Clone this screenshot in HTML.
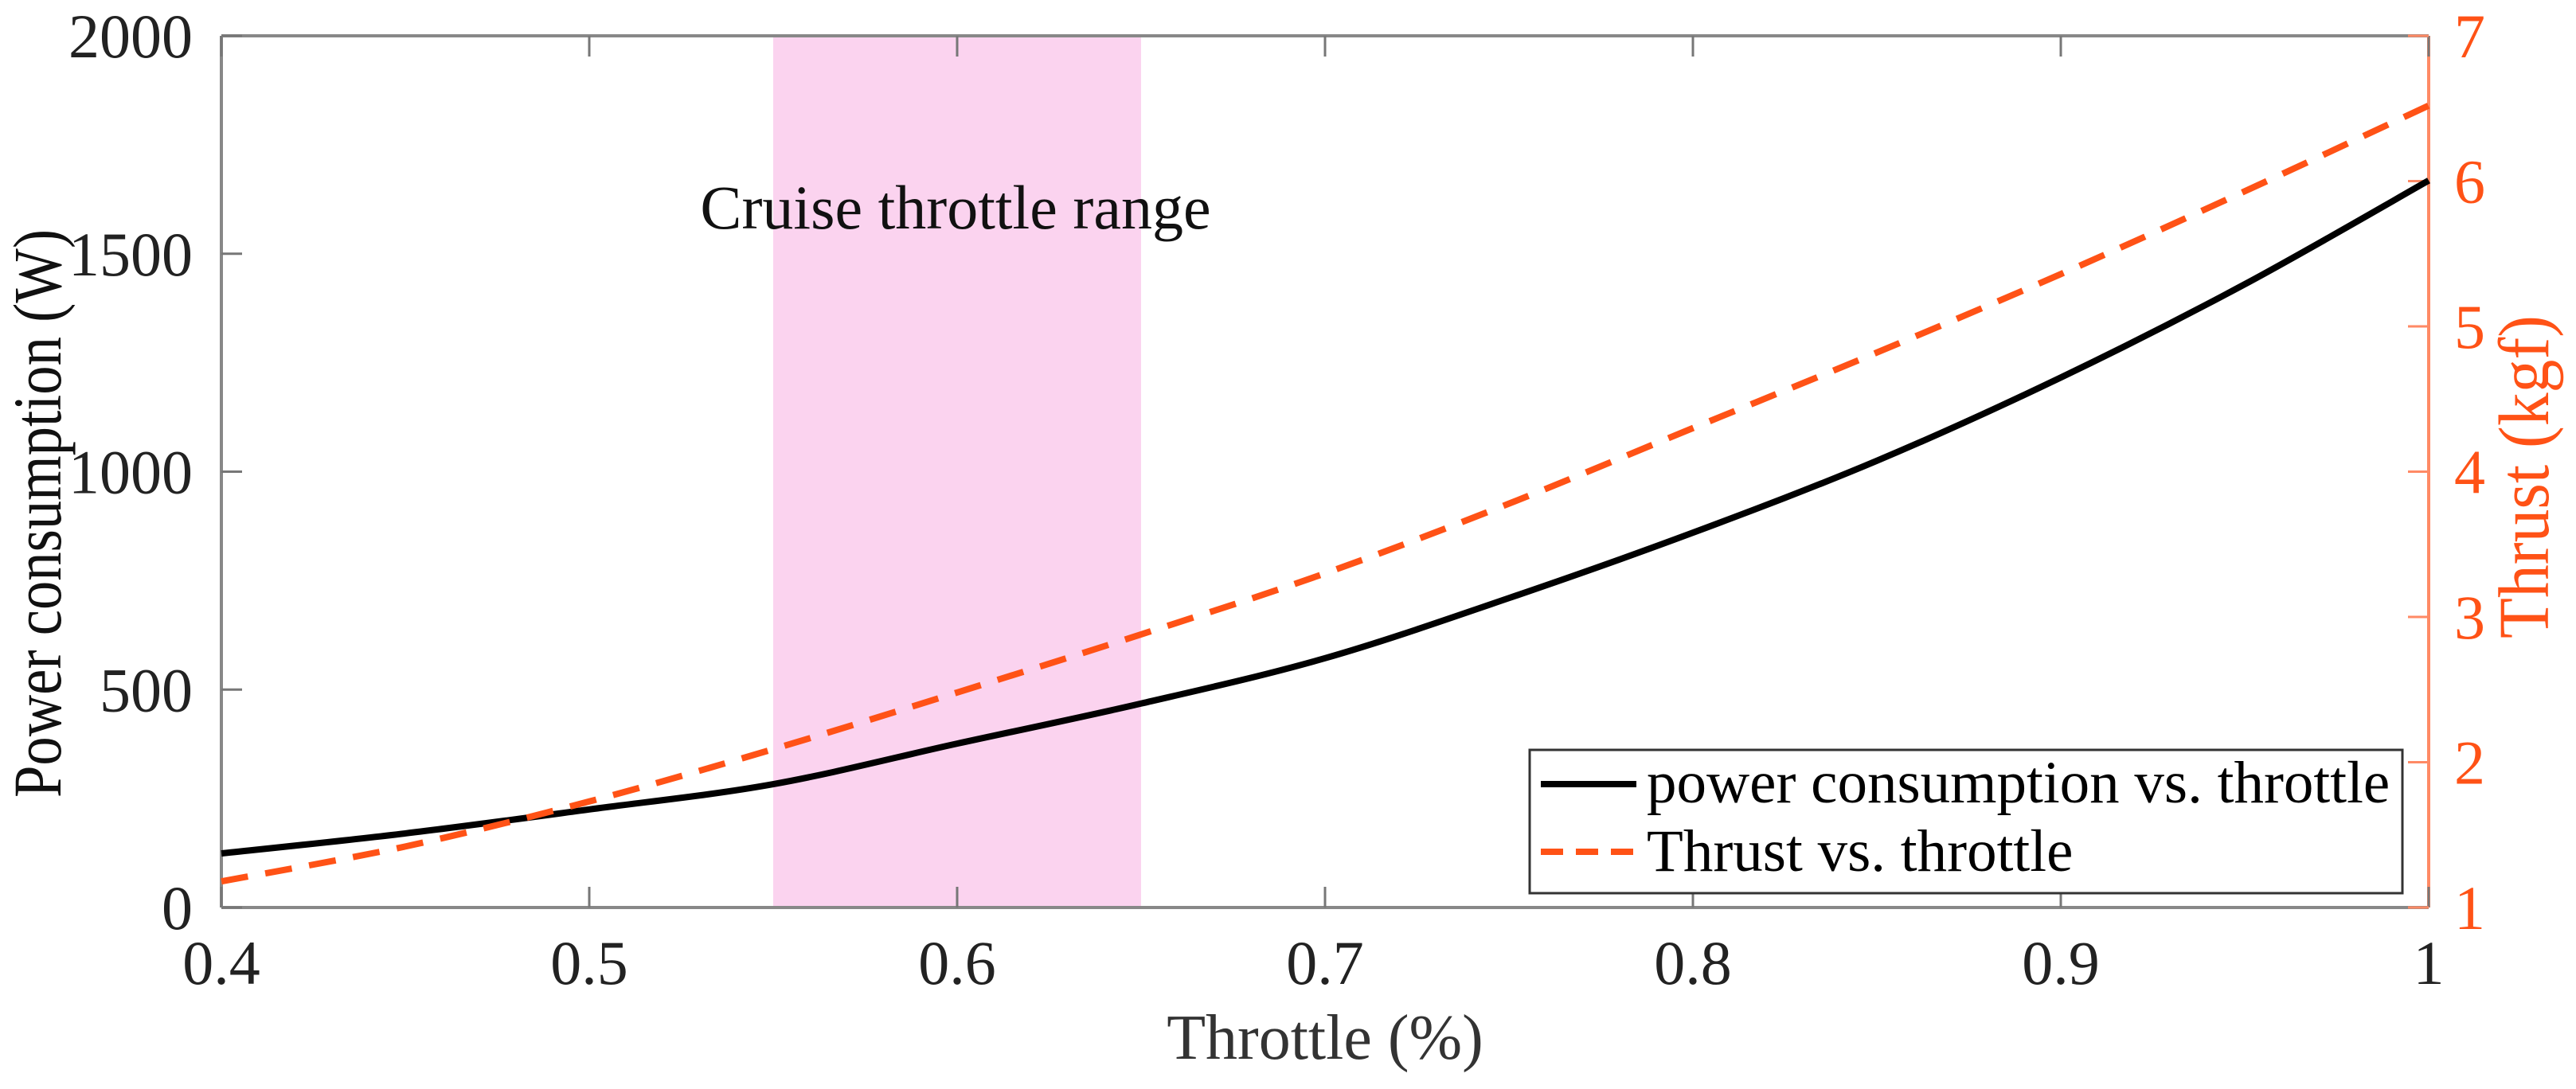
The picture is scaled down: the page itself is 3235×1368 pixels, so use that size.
<!DOCTYPE html>
<html><head><meta charset="utf-8"><style>
html,body{margin:0;padding:0;background:#fff;}
svg text{font-family:"Liberation Serif",serif;}
</style></head><body>
<svg id="chart" width="3235" height="1363" viewBox="0 0 3235 1363" xmlns="http://www.w3.org/2000/svg"></svg>
<script>
const throttle = [0.4,0.45,0.5,0.55,0.6,0.65,0.7,0.75,0.8,0.85,0.9,0.95,1.0];
const powerW  = [124,170,225,283,376,468,572,710,860,1025,1216,1430,1668];
const thrustKgf = [1.18,1.42,1.73,2.09,2.48,2.88,3.30,3.78,4.30,4.82,5.36,5.93,6.52];
const xTicks = [0.4,0.5,0.6,0.7,0.8,0.9,1];
const xTickLabels = ["0.4","0.5","0.6","0.7","0.8","0.9","1"];
const yLeftTicks = [0,500,1000,1500,2000];
const yRightTicks = [1,2,3,4,5,6,7];
const cruiseRange = [0.55,0.65];

const L=278,R=3050,T=45,B=1140;
const sx=v=>L+(v-0.4)/(1-0.4)*(R-L);
const syL=v=>B-(v-0)/(2000)*(B-T);
const syR=v=>B-(v-1)/(6)*(B-T);
const NS="http://www.w3.org/2000/svg";
const svg=document.getElementById('chart');
function mk(tag,attrs,parent){const e=document.createElementNS(NS,tag);for(const k in attrs)e.setAttribute(k,attrs[k]);(parent||svg).appendChild(e);return e;}
const OR="#ff5216", ORL="#ff8a65";

const band=mk('rect',{x:sx(cruiseRange[0]),y:T,width:sx(cruiseRange[1])-sx(cruiseRange[0]),height:B-T,fill:"#fbd3ef"});


const bl=mk('text',{x:1200,y:287,'font-size':78,'text-anchor':'middle',fill:"#111"});
bl.textContent="Cruise throttle range";



mk('line',{x1:L,y1:T,x2:R,y2:T,stroke:"#888",'stroke-width':4});
mk('line',{x1:L,y1:B,x2:R,y2:B,stroke:"#888",'stroke-width':4});
const la=mk('line',{x1:L,y1:T,x2:L,y2:B,stroke:"#888",'stroke-width':4});


const ra=mk('line',{x1:R,y1:T,x2:R,y2:B,stroke:ORL,'stroke-width':4});



xTicks.forEach((v,i)=>{
  const x=sx(v);
  mk('line',{x1:x,y1:B,x2:x,y2:B-26,stroke:"#777",'stroke-width':3});
  mk('line',{x1:x,y1:T,x2:x,y2:T+26,stroke:"#777",'stroke-width':3});
  const t=mk('text',{x:x,y:1236,'font-size':78,'text-anchor':'middle',fill:"#222"});
  t.textContent=xTickLabels[i];
  
  
});
yLeftTicks.forEach(v=>{
  const y=syL(v);
  mk('line',{x1:L,y1:y,x2:L+26,y2:y,stroke:"#777",'stroke-width':3});
  const t=mk('text',{x:L-36,y:y+27,'font-size':78,'text-anchor':'end',fill:"#222"});
  t.textContent=String(v);
  
  
});
yRightTicks.forEach(v=>{
  const y=syR(v);
  mk('line',{x1:R,y1:y,x2:R-26,y2:y,stroke:ORL,'stroke-width':3});
  const t=mk('text',{x:R+32,y:y+27,'font-size':78,'text-anchor':'start',fill:OR});
  t.textContent=String(v);
  
  
});

function smooth(xs,ys,f){
  const p=xs.map((x,i)=>[sx(x),f(ys[i])]);let d='M'+p[0][0]+','+p[0][1];
  for(let i=0;i<p.length-1;i++){const p0=p[i-1]||p[i],p1=p[i],p2=p[i+1],p3=p[i+2]||p2;
    d+=' C'+(p1[0]+(p2[0]-p0[0])/6)+','+(p1[1]+(p2[1]-p0[1])/6)+' '+(p2[0]-(p3[0]-p1[0])/6)+','+(p2[1]-(p3[1]-p1[1])/6)+' '+p2[0]+','+p2[1];}
  return d;}
const pl=mk('path',{d:smooth(throttle,powerW,syL),fill:'none',stroke:'#000','stroke-width':8});


const tl=mk('path',{d:smooth(throttle,thrustKgf,syR),fill:'none',stroke:OR,'stroke-width':8,'stroke-dasharray':'34 22'});



const xt=mk('text',{x:1664,y:1330,'font-size':80,'text-anchor':'middle',fill:"#333"});
xt.textContent="Throttle (%)";


const yt=mk('text',{x:0,y:0,'font-size':86,'text-anchor':'middle',fill:"#111",textLength:714,lengthAdjust:'spacingAndGlyphs',transform:'translate(76,645) rotate(-90)'});
yt.textContent="Power consumption (W)";


const yt2=mk('text',{x:0,y:0,'font-size':90,'text-anchor':'middle',fill:OR,textLength:406,lengthAdjust:'spacingAndGlyphs',transform:'translate(3200,599) rotate(-90)'});
yt2.textContent="Thrust (kgf)";



const lg=mk('g',{});


mk('rect',{x:1921,y:942,width:1096,height:180,fill:'#fff',stroke:'#333','stroke-width':3},lg);
mk('line',{x1:1935,y1:985,x2:2055,y2:985,stroke:'#000','stroke-width':8},lg);
mk('line',{x1:1935,y1:1070,x2:2055,y2:1070,stroke:OR,'stroke-width':8,'stroke-dasharray':'28 16'},lg);
const l1=mk('text',{x:2068,y:1008,'font-size':75,fill:'#000'},lg);
l1.textContent="power consumption vs. throttle";


const l2=mk('text',{x:2068,y:1094,'font-size':75,fill:'#000'},lg);
l2.textContent="Thrust vs. throttle";


</script>
</body></html>
